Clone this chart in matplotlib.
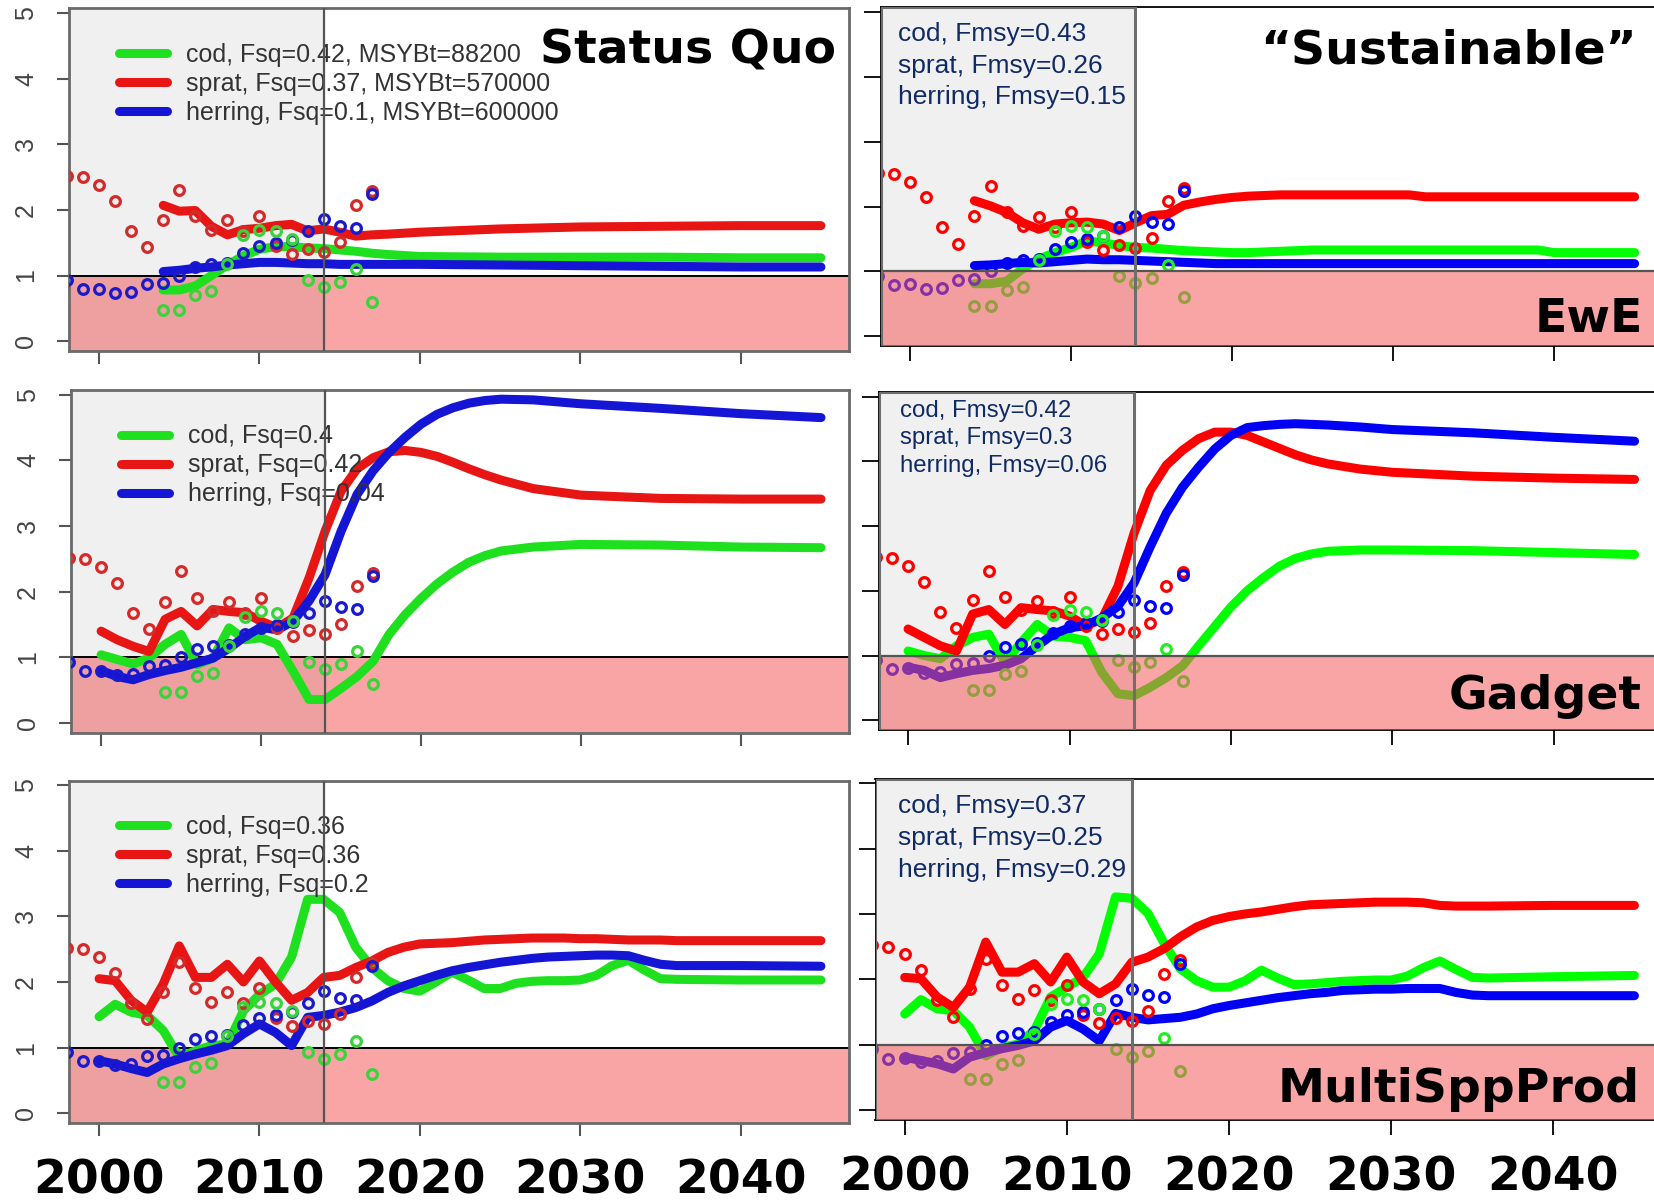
import matplotlib
matplotlib.use("Agg")
import matplotlib.pyplot as plt
from matplotlib.patches import Rectangle

plt.rcParams['font.family'] = ['Liberation Sans', 'DejaVu Sans']

# ---- observed (assessment) values, same in every panel ----
obs_years = list(range(1998, 2018))
sprat_obs = [2.52, 2.50, 2.38, 2.14, 1.68, 1.43, 1.85, 2.31, 1.91, 1.70,
             1.84, 1.68, 1.91, 1.45, 1.33, 1.41, 1.36, 1.51, 2.08, 2.29]
herring_obs = [0.93, 0.79, 0.80, 0.73, 0.75, 0.87, 0.89, 1.00, 1.13, 1.18,
               1.19, 1.35, 1.45, 1.50, 1.54, 1.68, 1.86, 1.76, 1.73, 2.24]
cod_obs_years = list(range(2004, 2018))
cod_obs = [0.47, 0.47, 0.71, 0.76, 1.17, 1.62, 1.70, 1.68, 1.55, 0.93,
           0.82, 0.90, 1.10, 0.60]

# ---- EwE ----
ewe_sq_years = list(range(2004, 2019)) + [2020, 2025, 2030, 2035, 2040, 2045]
ewe_sq_cod = [0.78, 0.78, 0.84, 1.00, 1.16, 1.30, 1.40, 1.44, 1.44, 1.42,
              1.41, 1.39, 1.37, 1.34, 1.32, 1.29, 1.28, 1.28, 1.28, 1.27, 1.27]
ewe_sq_sprat = [2.07, 1.98, 1.99, 1.75, 1.62, 1.70, 1.72, 1.76, 1.78, 1.68,
                1.71, 1.66, 1.60, 1.62, 1.63, 1.66, 1.71, 1.74, 1.75, 1.76, 1.76]
ewe_sq_herring = [1.06, 1.08, 1.11, 1.13, 1.16, 1.18, 1.20, 1.20, 1.19, 1.18,
                  1.18, 1.17, 1.17, 1.17, 1.17, 1.17, 1.16, 1.15, 1.14, 1.13, 1.13]

ewe_su_years = list(range(2004, 2022)) + [2023, 2025, 2031, 2032, 2039, 2040, 2045]
ewe_su_cod = [0.81, 0.81, 0.85, 1.04, 1.19, 1.29, 1.37, 1.47, 1.44, 1.40,
              1.37, 1.36, 1.34, 1.32, 1.31, 1.30, 1.29, 1.29,
              1.31, 1.33, 1.33, 1.33, 1.33, 1.29, 1.29]
ewe_su_sprat = [2.09, 2.01, 1.91, 1.75, 1.65, 1.73, 1.75, 1.76, 1.73, 1.63,
                1.75, 1.86, 1.88, 2.02, 2.07, 2.11, 2.14, 2.16,
                2.18, 2.18, 2.18, 2.15, 2.15, 2.15, 2.15]
ewe_su_herring = [1.09, 1.10, 1.12, 1.14, 1.13, 1.15, 1.17, 1.19, 1.18, 1.18,
                  1.17, 1.16, 1.15, 1.14, 1.13, 1.12, 1.12, 1.12,
                  1.12, 1.12, 1.12, 1.12, 1.12, 1.12, 1.12]

# ---- Gadget ----
gad_sq_years = list(range(2000, 2026)) + [2027, 2030, 2035, 2040, 2045]
gad_sq_cod = [1.04, 0.97, 0.90, 0.99, 1.20, 1.35, 0.89, 0.99, 1.45, 1.27,
              1.30, 1.20, 0.79, 0.36, 0.36, 0.53, 0.71, 0.94, 1.35, 1.65,
              1.90, 2.12, 2.30, 2.45, 2.55, 2.62, 2.68, 2.72, 2.71, 2.68, 2.67]
gad_sq_sprat = [1.40, 1.27, 1.17, 1.09, 1.58, 1.70, 1.48, 1.73, 1.70, 1.68,
                1.55, 1.45, 1.60, 2.21, 2.92, 3.53, 3.87, 4.04, 4.13, 4.15,
                4.12, 4.06, 3.97, 3.87, 3.78, 3.70, 3.57, 3.47, 3.42, 3.41, 3.41]
gad_sq_herring = [0.80, 0.71, 0.66, 0.74, 0.80, 0.85, 0.92, 0.99, 1.14, 1.32,
                  1.46, 1.42, 1.55, 1.86, 2.26, 2.92, 3.48, 3.84, 4.12, 4.35,
                  4.55, 4.70, 4.80, 4.87, 4.91, 4.93, 4.92, 4.86, 4.79, 4.71, 4.65]

gad_su_years = list(range(2000, 2026)) + [2026, 2028, 2030, 2035, 2040, 2045]
gad_su_cod = [1.07, 1.00, 0.95, 1.15, 1.28, 1.33, 0.89, 1.20, 1.48, 1.30,
              1.28, 1.23, 0.74, 0.41, 0.38, 0.51, 0.66, 0.84, 1.15, 1.45,
              1.75, 2.00, 2.20, 2.38, 2.50, 2.57, 2.61, 2.63, 2.63, 2.62, 2.59, 2.56]
gad_su_sprat = [1.41, 1.28, 1.15, 1.07, 1.64, 1.71, 1.48, 1.74, 1.71, 1.69,
                1.61, 1.46, 1.56, 2.07, 2.89, 3.55, 3.94, 4.17, 4.35, 4.45,
                4.45, 4.40, 4.30, 4.20, 4.10, 4.02, 3.96, 3.88, 3.83, 3.77, 3.74, 3.72]
gad_su_herring = [0.82, 0.77, 0.66, 0.72, 0.77, 0.80, 0.85, 0.95, 1.15, 1.33,
                  1.43, 1.46, 1.58, 1.76, 2.12, 2.68, 3.20, 3.60, 3.91, 4.19,
                  4.40, 4.52, 4.55, 4.57, 4.58, 4.57, 4.56, 4.53, 4.49, 4.44, 4.37, 4.31]

# ---- MultiSppProd ----
msp_years = list(range(2000, 2037)) + [2040, 2045]
msp_sq_cod = [1.47, 1.66, 1.54, 1.49, 1.26, 0.85, 0.95, 1.03, 1.05, 1.56,
              1.81, 1.97, 2.38, 3.26, 3.26, 3.06, 2.53, 2.22, 2.02, 1.90,
              1.86, 2.00, 2.15, 2.03, 1.90, 1.90, 1.98, 2.01, 2.02, 2.02,
              2.03, 2.10, 2.25, 2.33, 2.18, 2.05, 2.04, 2.03, 2.03]
msp_sq_sprat = [2.05, 2.02, 1.72, 1.54, 1.97, 2.55, 2.07, 2.07, 2.27, 2.00,
                2.32, 2.00, 1.72, 1.84, 2.07, 2.10, 2.22, 2.32, 2.45, 2.53,
                2.58, 2.59, 2.60, 2.62, 2.64, 2.65, 2.66, 2.67, 2.67, 2.67,
                2.66, 2.66, 2.65, 2.64, 2.64, 2.64, 2.63, 2.63, 2.63]
msp_sq_herring = [0.80, 0.75, 0.68, 0.62, 0.75, 0.83, 0.90, 0.96, 1.03, 1.21,
                  1.36, 1.23, 1.03, 1.46, 1.49, 1.54, 1.61, 1.71, 1.84, 1.94,
                  2.02, 2.10, 2.17, 2.22, 2.26, 2.30, 2.33, 2.36, 2.38, 2.39,
                  2.40, 2.41, 2.41, 2.40, 2.33, 2.27, 2.25, 2.25, 2.24]

msp_su_cod = [1.47, 1.69, 1.55, 1.52, 1.27, 0.83, 0.96, 1.01, 1.22, 1.73,
              1.88, 2.03, 2.39, 3.26, 3.24, 3.01, 2.55, 2.16, 1.98, 1.88,
              1.88, 1.98, 2.14, 2.02, 1.92, 1.93, 1.95, 1.97, 1.98, 1.99,
              1.99, 2.05, 2.18, 2.28, 2.15, 2.03, 2.02, 2.04, 2.06]
msp_su_sprat = [2.03, 2.01, 1.73, 1.57, 1.88, 2.57, 2.11, 2.11, 2.24, 1.96,
                2.34, 1.96, 1.78, 1.93, 2.26, 2.34, 2.47, 2.65, 2.80, 2.90,
                2.96, 3.00, 3.03, 3.07, 3.11, 3.14, 3.15, 3.16, 3.17, 3.18,
                3.18, 3.18, 3.17, 3.13, 3.12, 3.12, 3.12, 3.13, 3.13]
msp_su_herring = [0.81, 0.76, 0.71, 0.63, 0.81, 0.88, 0.94, 0.99, 1.06, 1.27,
                  1.37, 1.24, 1.06, 1.48, 1.42, 1.38, 1.40, 1.42, 1.47, 1.55,
                  1.60, 1.64, 1.68, 1.72, 1.75, 1.78, 1.80, 1.83, 1.84, 1.85,
                  1.85, 1.86, 1.86, 1.86, 1.80, 1.76, 1.75, 1.75, 1.75]

sq_labels = [
    ["cod, Fsq=0.42, MSYBt=88200", "sprat, Fsq=0.37, MSYBt=570000", "herring, Fsq=0.1, MSYBt=600000"],
    ["cod, Fsq=0.4", "sprat, Fsq=0.42", "herring, Fsq=0.04"],
    ["cod, Fsq=0.36", "sprat, Fsq=0.36", "herring, Fsq=0.2"],
]
su_labels = [
    "cod, Fmsy=0.43\nsprat, Fmsy=0.26\nherring, Fmsy=0.15",
    "cod, Fmsy=0.42\nsprat, Fmsy=0.3\nherring, Fmsy=0.06",
    "cod, Fmsy=0.37\nsprat, Fmsy=0.25\nherring, Fmsy=0.29",
]
model_names = ["EwE", "Gadget", "MultiSppProd"]
year_ticks = [2000, 2010, 2020, 2030, 2040]

W, H = 1654, 1204
fig = plt.figure(figsize=(W / 100, H / 100), dpi=100)


def box(l, r, t, b):
    return [l / W, 1 - b / H, (r - l) / W, (b - t) / H]


left_boxes = [box(68.6, 849, 8.4, 351), box(70.7, 849, 390, 733), box(68.6, 849, 780.6, 1123)]
right_boxes = [box(881, 1662, 7.4, 346), box(879, 1662, 392, 730), box(875.5, 1662, 778.5, 1120)]

sq_series = [
    (ewe_sq_years, ewe_sq_cod, ewe_sq_sprat, ewe_sq_herring),
    (gad_sq_years, gad_sq_cod, gad_sq_sprat, gad_sq_herring),
    (msp_years, msp_sq_cod, msp_sq_sprat, msp_sq_herring),
]
su_series = [
    (ewe_su_years, ewe_su_cod, ewe_su_sprat, ewe_su_herring),
    (gad_su_years, gad_su_cod, gad_su_sprat, gad_su_herring),
    (msp_years, msp_su_cod, msp_su_sprat, msp_su_herring),
]

YLO, YHI = -0.15, 5.07
line_kw = dict(lw=6.5, solid_capstyle='round', solid_joinstyle='round')
pt_kw = dict(ls='none', marker='o', ms=7, mew=2.3, mfc='none')

# ---------- left column: status quo ----------
for i, ax_pos in enumerate(left_boxes):
    ax = fig.add_axes(ax_pos)
    x0, x1 = 1998.1, 2046.75
    ax.set_xlim(x0, x1)
    ax.set_ylim(YLO, YHI)
    ax.add_patch(Rectangle((x0, YLO), 2014 - x0, YHI - YLO, color='#f0f0f0', zorder=0))
    ax.add_patch(Rectangle((x0, YLO), x1 - x0, 1 - YLO, color='#faa5a5', zorder=0.2))
    ax.add_patch(Rectangle((x0, YLO), 2014 - x0, 1 - YLO, color='#eea0a0', zorder=0.3))
    ax.axhline(1, color='black', lw=1.4, zorder=1)
    ax.axvline(2014, color='#555555', lw=1.6, zorder=10)

    yrs, cod, sprat, herring = sq_series[i]
    ax.plot(yrs, cod, color='#1fe01f', label=sq_labels[i][0], zorder=3, **line_kw)
    ax.plot(yrs, sprat, color='#e81515', label=sq_labels[i][1], zorder=3, **line_kw)
    ax.plot(yrs, herring, color='#1515d5', label=sq_labels[i][2], zorder=3, **line_kw)
    ax.plot(obs_years, sprat_obs, mec='#d42a2a', zorder=4, **pt_kw)
    ax.plot(obs_years, herring_obs, mec='#1a1acc', zorder=4, **pt_kw)
    ax.plot(cod_obs_years, cod_obs, mec='#3bd23b', zorder=4, **pt_kw)

    leg = ax.legend(loc='upper left', bbox_to_anchor=(0.064, 0.90), frameon=False,
                    fontsize=18, handlelength=1.95, handletextpad=0.75,
                    labelspacing=0.2, borderaxespad=0, borderpad=0)
    for t in leg.get_texts():
        t.set_color('#333333')

    for s in ax.spines.values():
        s.set_color('#6a6a6a')
        s.set_linewidth(2)
    ax.set_yticks(range(6))
    ax.set_yticklabels([str(v) for v in range(6)], rotation=90, va='center',
                       fontsize=18, color='#444444')
    ax.tick_params(axis='y', direction='out', length=9, width=1.5, color='#555555', pad=13)
    ax.set_xticks(year_ticks)
    if i == 2:
        ax.set_xticklabels([str(y) for y in year_ticks], fontsize=34,
                           fontweight='bold', family='DejaVu Sans')
        ax.tick_params(axis='x', direction='out', length=9, width=1.5,
                       color='#555555', pad=16.5)
    else:
        ax.set_xticklabels([])
        ax.tick_params(axis='x', direction='out', length=9, width=1.5, color='#555555')

# ---------- right column: "sustainable" ----------
su_text_pos = [(16.6, 15), (21, 8), (22, 16)]
su_text_size = [19, 17.3, 19]
su_text_spacing = [1.38, 1.32, 1.4]
for i, ax_pos in enumerate(right_boxes):
    ax = fig.add_axes(ax_pos)
    x0, x1 = 1998.2, 2046.7
    ax.set_xlim(x0, x1)
    ax.set_ylim(YLO, YHI)
    ax.add_patch(Rectangle((x0, YLO), 2014 - x0, YHI - YLO, color='#f0f0f0', zorder=0))

    yrs, cod, sprat, herring = su_series[i]
    ax.plot(yrs, cod, color='#00ff00', zorder=3, **line_kw)
    ax.plot(yrs, sprat, color='#ff0000', zorder=3, **line_kw)
    ax.plot(yrs, herring, color='#0000f5', zorder=3, **line_kw)
    ax.plot(obs_years, sprat_obs, mec='#ff0000', zorder=4, **pt_kw)
    ax.plot(obs_years, herring_obs, mec='#0000ff', zorder=4, **pt_kw)
    ax.plot(cod_obs_years, cod_obs, mec='#22ee22', zorder=4, **pt_kw)

    # translucent pink band laid over the data below 1
    ax.add_patch(Rectangle((x0, YLO), x1 - x0, 1 - YLO, color='#f65b5b', alpha=0.55,
                           lw=0, zorder=5))
    ax.axhline(1, color='#555555', lw=1.6, zorder=6)
    ax.add_patch(Rectangle((x0, YLO), 2014 - x0, YHI - YLO, fill=False,
                           edgecolor='#6e6e6e', lw=2.2, zorder=7))

    dx, dy = su_text_pos[i]
    ax.annotate(su_labels[i], xy=(0, 1), xycoords='axes fraction',
                xytext=(dx * 0.72, -dy * 0.72), textcoords='offset points',
                ha='left', va='top', fontsize=su_text_size[i], color='#102a66',
                linespacing=su_text_spacing[i], zorder=8)

    for s in ax.spines.values():
        s.set_color('black')
        s.set_linewidth(1.3)
    ax.set_yticks(range(6))
    ax.set_yticklabels([])
    ax.tick_params(axis='y', direction='out', length=12, width=1.3, color='black')
    ax.set_xticks(year_ticks)
    if i == 2:
        ax.set_xticklabels([str(y) for y in year_ticks], fontsize=34,
                           fontweight='bold', family='DejaVu Sans')
        ax.tick_params(axis='x', direction='out', length=11, width=1.3, pad=14.5)
    else:
        ax.set_xticklabels([])
        ax.tick_params(axis='x', direction='out', length=11, width=1.3)

# big headings
bold = dict(fontsize=34, fontweight='bold', family='DejaVu Sans', color='black',
            ha='right', va='baseline')
fig.text(836 / W, 1 - 63 / H, "Status Quo", **bold)
fig.text(1637 / W, 1 - 63 / H, "\u201cSustainable\u201d", **bold)
fig.text(1643 / W, 1 - 332 / H, model_names[0], zorder=20, **bold)
fig.text(1642 / W, 1 - 709 / H, model_names[1], zorder=20, **bold)
fig.text(1640 / W, 1 - 1102 / H, model_names[2], zorder=20, **bold)

fig.savefig("out.png", dpi=100)
